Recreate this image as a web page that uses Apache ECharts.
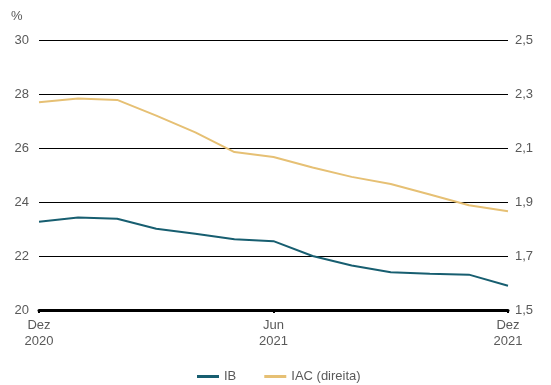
<!DOCTYPE html>
<html>
<head>
<meta charset="utf-8">
<script src="https://cdn.jsdelivr.net/npm/echarts@6/dist/echarts.min.js"></script>
<style>
  html, body { margin: 0; padding: 0; background: #fff; }
  #chart { width: 551px; height: 385px; }
</style>
</head>
<body>
<div id="chart"></div>
<script>
// Monthly observations, Dez 2020 .. Dez 2021
const months = ['Dez\n2020', 'Jan', 'Fev', 'Mar', 'Abr', 'Mai', 'Jun\n2021', 'Jul', 'Ago', 'Set', 'Out', 'Nov', 'Dez\n2021'];
const ibValues = [23.27, 23.43, 23.38, 23.01, 22.82, 22.62, 22.55, 22.0, 21.65, 21.4, 21.34, 21.31, 20.9];
const iacValues = [2.269, 2.283, 2.278, 2.22, 2.158, 2.085, 2.067, 2.028, 1.993, 1.967, 1.928, 1.888, 1.866];
const leftTicks = [20, 22, 24, 26, 28, 30];
const rightTicks = [1.5, 1.7, 1.9, 2.1, 2.3, 2.5];
const labeledMonths = [0, 6, 12];

const ibColor = '#175e70';
const iacColor = '#e6c074';
const textColor = '#595959';
const font = 'Liberation Sans, Arial, sans-serif';

const chart = echarts.init(document.getElementById('chart'));
chart.setOption({
  animation: false,
  grid: { left: 39, right: 43, top: 40, bottom: 75, containLabel: false },
  graphic: [{
    type: 'text', left: 11, top: 10,
    style: { text: '%', fill: textColor, font: '13px ' + font }
  }],
  legend: {
    top: 370,
    left: 197,
    padding: 0,
    itemWidth: 22,
    itemHeight: 3,
    itemGap: 28,
    textStyle: { color: textColor, fontSize: 13, fontFamily: font },
    data: [{ name: 'IB', icon: 'rect' }, { name: 'IAC (direita)', icon: 'rect' }]
  },
  xAxis: {
    type: 'category',
    data: months,
    boundaryGap: false,
    axisLine: { lineStyle: { color: '#000', width: 3 } },
    axisTick: {
      alignWithLabel: true,
      length: 3,
      lineStyle: { color: '#000', width: 2 },
      interval: (i) => labeledMonths.includes(i)
    },
    axisLabel: {
      interval: (i) => labeledMonths.includes(i),
      color: textColor,
      fontSize: 13,
      fontFamily: font,
      lineHeight: 16,
      margin: 7
    },
    splitLine: { show: false }
  },
  yAxis: [{
    type: 'value',
    min: leftTicks[0],
    max: leftTicks[leftTicks.length - 1],
    interval: leftTicks[1] - leftTicks[0],
    axisLine: { show: false },
    axisTick: { show: false },
    axisLabel: { color: textColor, fontSize: 13, fontFamily: font, margin: 10 },
    splitLine: { lineStyle: { color: '#000', width: 1 } }
  }, {
    type: 'value',
    min: rightTicks[0],
    max: rightTicks[rightTicks.length - 1],
    alignTicks: true,
    axisLine: { show: false },
    axisTick: { show: false },
    axisLabel: {
      color: textColor, fontSize: 13, fontFamily: font, margin: 7,
      formatter: (v) => v.toFixed(1).replace('.', ',')
    },
    splitLine: { show: false }
  }],
  series: [{
    name: 'IB',
    type: 'line',
    yAxisIndex: 0,
    data: ibValues,
    symbol: 'none',
    lineStyle: { color: ibColor, width: 2 },
    itemStyle: { color: ibColor }
  }, {
    name: 'IAC (direita)',
    type: 'line',
    yAxisIndex: 1,
    data: iacValues,
    symbol: 'none',
    lineStyle: { color: iacColor, width: 2 },
    itemStyle: { color: iacColor }
  }]
});
</script>
</body>
</html>
